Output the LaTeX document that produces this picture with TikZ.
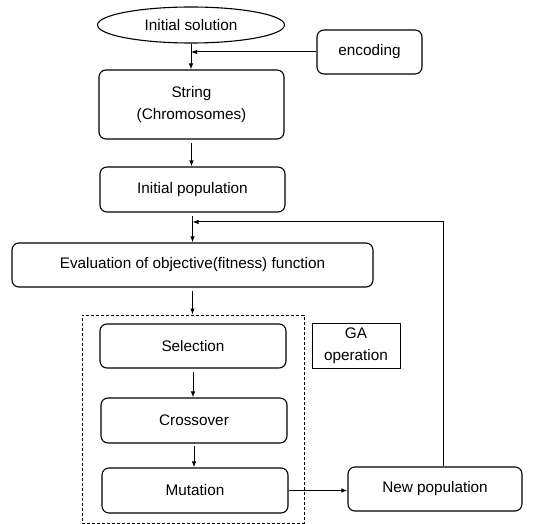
\documentclass[tikz,border=0pt]{standalone}
\usepackage{fontspec}
\setmainfont{Liberation Sans}
\usetikzlibrary{shapes.geometric,arrows.meta}
\begin{document}
\begin{tikzpicture}[x=1pt,y=-1pt,
  lbl/.style={font=\fontsize{15.3}{22}\selectfont, align=center, inner sep=0pt},
  box/.style={lbl, draw, rounded corners=7pt, line width=1.1pt},
  ell/.style={lbl, draw, ellipse, line width=1.1pt},
  sq/.style={lbl, draw, line width=1pt},
  arr/.style={-{Latex[length=6pt,width=4.5pt]}, line width=1pt}]
\useasboundingbox (0,0) rectangle (536,524);

\node[ell, minimum width=187pt, minimum height=36pt] (init) at (191,25) {Initial solution};
\node[box, minimum width=105pt, minimum height=44pt] (enc) at (369.5,52) {encoding};
\node[box, minimum width=185pt, minimum height=69pt] (str) at (191.5,104.5) {String\\(Chromosomes)};
\node[box, minimum width=185pt, minimum height=45pt] (ipop) at (192.5,189.5) {Initial population};
\node[box, minimum width=361pt, minimum height=44pt] (eval) at (192.5,265) {Evaluation of objective(fitness) function};
\node[draw, dash pattern=on 3pt off 2pt, line width=1pt, minimum width=222pt, minimum height=208pt, inner sep=0pt] (ga) at (193,419) {};
\node[box, minimum width=186pt, minimum height=44pt] (sel) at (193,346) {Selection};
\node[box, minimum width=186pt, minimum height=45pt] (cross) at (194,420.5) {Crossover};
\node[box, minimum width=186pt, minimum height=45pt] (mut) at (195,490.5) {Mutation};
\node[sq, minimum width=88pt, minimum height=45pt] (galbl) at (356,345.5) {GA\\operation};
\node[box, minimum width=174pt, minimum height=44pt] (newpop) at (435,489) {New population};

\coordinate (row1) at (0,52);
\coordinate (row2) at (0,222);
\coordinate (fbx) at (443,0);

% top
\draw[arr] (init.south) -- (init.south |- str.north);
\draw[arr] (enc.west) -- (init.south |- row1);
\draw[arr, shorten <=3pt] (str.south) -- (str.south |- ipop.north);
% evaluation with feedback
\draw[arr, shorten <=3pt] (ipop.south) -- (ipop.south |- eval.north);
\draw[arr] (fbx |- newpop.north) -- (fbx |- row2) -- (ipop.south |- row2);
\draw[arr, shorten <=3pt] (eval.south) -- (eval.south |- ga.north);
% GA operations
\draw[arr, shorten <=3pt] (sel.south) -- (sel.south |- cross.north);
\draw[arr, shorten <=2pt] (cross.south) -- (cross.south |- mut.north);
\draw[arr] (mut.east) -- (mut.east -| newpop.west);
\end{tikzpicture}
\end{document}
